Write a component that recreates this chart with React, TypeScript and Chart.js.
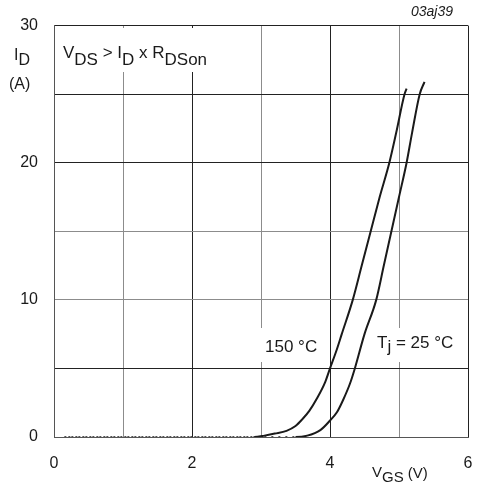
import { useEffect, useRef } from 'react'
import { Chart, registerables } from 'chart.js'

Chart.register(...registerables)

document.body.style.margin = '0'

// V_GS (V) / I_D (A), Tj = 150 °C
const vgs150 = [0.15, 0.5, 1, 1.5, 2, 2.5, 2.9, 3.05, 3.2, 3.37, 3.5, 3.6, 3.7, 3.81, 3.93, 4.0, 4.1, 4.17, 4.33, 4.46, 4.59, 4.72, 4.86, 4.96, 5.08, 5.11]
const id150 = [0, 0, 0, 0, 0, 0, 0, 0.1, 0.25, 0.45, 0.8, 1.3, 1.9, 2.8, 4.0, 5.0, 6.4, 7.5, 10, 12.5, 15, 17.5, 20, 22.2, 25, 25.4]

// Tj = 25 °C
const vgs25 = [0.15, 0.5, 1, 1.5, 2, 2.5, 3, 3.5, 3.67, 3.86, 4.0, 4.1, 4.19, 4.29, 4.36, 4.5, 4.67, 4.78, 4.89, 5.0, 5.11, 5.19, 5.3, 5.37]
const id25 = [0, 0, 0, 0, 0, 0, 0, 0, 0.1, 0.5, 1.2, 1.8, 2.7, 3.9, 5, 7.5, 10, 12.5, 15, 17.5, 20, 22.2, 25, 25.9]

const xTicks = [0, 2, 4, 6]
const yTicks = [0, 10, 20, 30]

const FONT = '"Liberation Sans", Arial, Helvetica, sans-serif'
const INK = '#1a1a1a'

type Part = { t: string; dy: number }

function drawRich(ctx: CanvasRenderingContext2D, x: number, y: number, parts: Part[]) {
  let cx = x
  for (const p of parts) {
    ctx.fillText(p.t, cx, y + p.dy)
    cx += ctx.measureText(p.t).width
  }
}

const labelsPlugin = {
  id: 'labels',
  afterDraw(chart: Chart) {
    const ctx = chart.ctx
    ctx.save()
    // white boxes that break the grid behind the labels
    ctx.fillStyle = '#fff'
    ctx.fillRect(58, 28, 170, 44)
    ctx.fillRect(258, 328, 66, 34)
    ctx.fillRect(372, 328, 92, 34)

    ctx.fillStyle = INK
    ctx.textBaseline = 'alphabetic'
    ctx.textAlign = 'left'
    ctx.font = `17px ${FONT}`
    drawRich(ctx, 63, 58, [
      { t: 'V', dy: 0 }, { t: 'DS', dy: 7 }, { t: ' > ', dy: 0 },
      { t: 'I', dy: 0 }, { t: 'D', dy: 7 }, { t: ' x ', dy: 0 },
      { t: 'R', dy: 0 }, { t: 'DSon', dy: 7 },
    ])
    ctx.fillText('150 °C', 265, 352)
    drawRich(ctx, 377, 348, [
      { t: 'T', dy: 0 }, { t: 'j', dy: 4 }, { t: ' = 25 °C', dy: 0 },
    ])

    // axis titles
    ctx.font = `16px ${FONT}`
    drawRich(ctx, 14, 60, [{ t: 'I', dy: 0 }, { t: 'D', dy: 5 }])
    ctx.fillText('(A)', 9, 89)
    ctx.font = `15px ${FONT}`
    drawRich(ctx, 372, 477, [
      { t: 'V', dy: 0 }, { t: 'GS', dy: 5 }, { t: ' (V)', dy: 1 },
    ])

    ctx.font = `italic 14px ${FONT}`
    ctx.textAlign = 'right'
    ctx.fillText('03aj39', 453, 16)
    ctx.restore()
  },
}

const zeroDash = (c: any) => (c.p0.parsed.y === 0 && c.p1.parsed.y === 0 ? [2, 5] : undefined)
const zeroWidth = (c: any) => (c.p0.parsed.y === 0 && c.p1.parsed.y === 0 ? 1.3 : undefined)

export default function App() {
  const canvasRef = useRef<HTMLCanvasElement>(null)
  const chartRef = useRef<Chart | null>(null)

  useEffect(() => {
    if (!canvasRef.current) return
    chartRef.current?.destroy()

    chartRef.current = new Chart(canvasRef.current, {
      type: 'line',
      data: {
        datasets: [
          {
            label: '150 °C',
            data: vgs150.map((v, i) => ({ x: v, y: id150[i] })),
            borderColor: INK,
            borderWidth: 2,
            pointRadius: 0,
            cubicInterpolationMode: 'monotone',
            segment: { borderDash: zeroDash, borderWidth: zeroWidth },
          },
          {
            label: '25 °C',
            data: vgs25.map((v, i) => ({ x: v, y: id25[i] })),
            borderColor: INK,
            borderWidth: 2,
            pointRadius: 0,
            cubicInterpolationMode: 'monotone',
            segment: { borderDash: zeroDash, borderWidth: zeroWidth, borderDashOffset: () => 3 },
          },
        ],
      },
      options: {
        animation: false,
        responsive: true,
        maintainAspectRatio: false,
        layout: { padding: { top: 23, right: 9, left: 0, bottom: 0 } },
        plugins: { legend: { display: false }, tooltip: { enabled: false } },
        scales: {
          x: {
            type: 'linear',
            min: 0,
            max: 6,
            afterFit: (s: any) => {
              s.height = 51
              s.paddingLeft = 0
              s.paddingRight = 0
            },
            ticks: {
              stepSize: 1,
              autoSkip: false,
              maxRotation: 0,
              padding: 17,
              color: INK,
              font: { family: FONT, size: 16 },
              callback: (v: any) => (xTicks.includes(Number(v)) ? String(v) : ''),
            },
            grid: {
              drawTicks: false,
              lineWidth: 1,
              color: (c: any) => (c.tick && c.tick.value % 2 === 1 ? '#8c8c8c' : '#222'),
            },
            border: { display: true, color: '#555', width: 1 },
          },
          y: {
            type: 'linear',
            min: 0,
            max: 30,
            afterFit: (s: any) => { s.width = 54 },
            ticks: {
              stepSize: 5,
              autoSkip: false,
              padding: 16,
              color: INK,
              font: { family: FONT, size: 16 },
              callback: (v: any) => (yTicks.includes(Number(v)) ? String(v) : ''),
            },
            grid: {
              drawTicks: false,
              lineWidth: 1,
              color: (c: any) => (c.tick && (c.tick.value === 10 || c.tick.value === 15) ? '#8c8c8c' : '#222'),
            },
            border: { display: true, color: '#555', width: 1 },
          },
        },
      },
      plugins: [labelsPlugin],
    })

    return () => {
      chartRef.current?.destroy()
      chartRef.current = null
    }
  }, [])

  return (
    <div style={{ position: 'relative', width: 477, height: 488, background: '#fff' }}>
      <canvas ref={canvasRef} />
    </div>
  )
}
